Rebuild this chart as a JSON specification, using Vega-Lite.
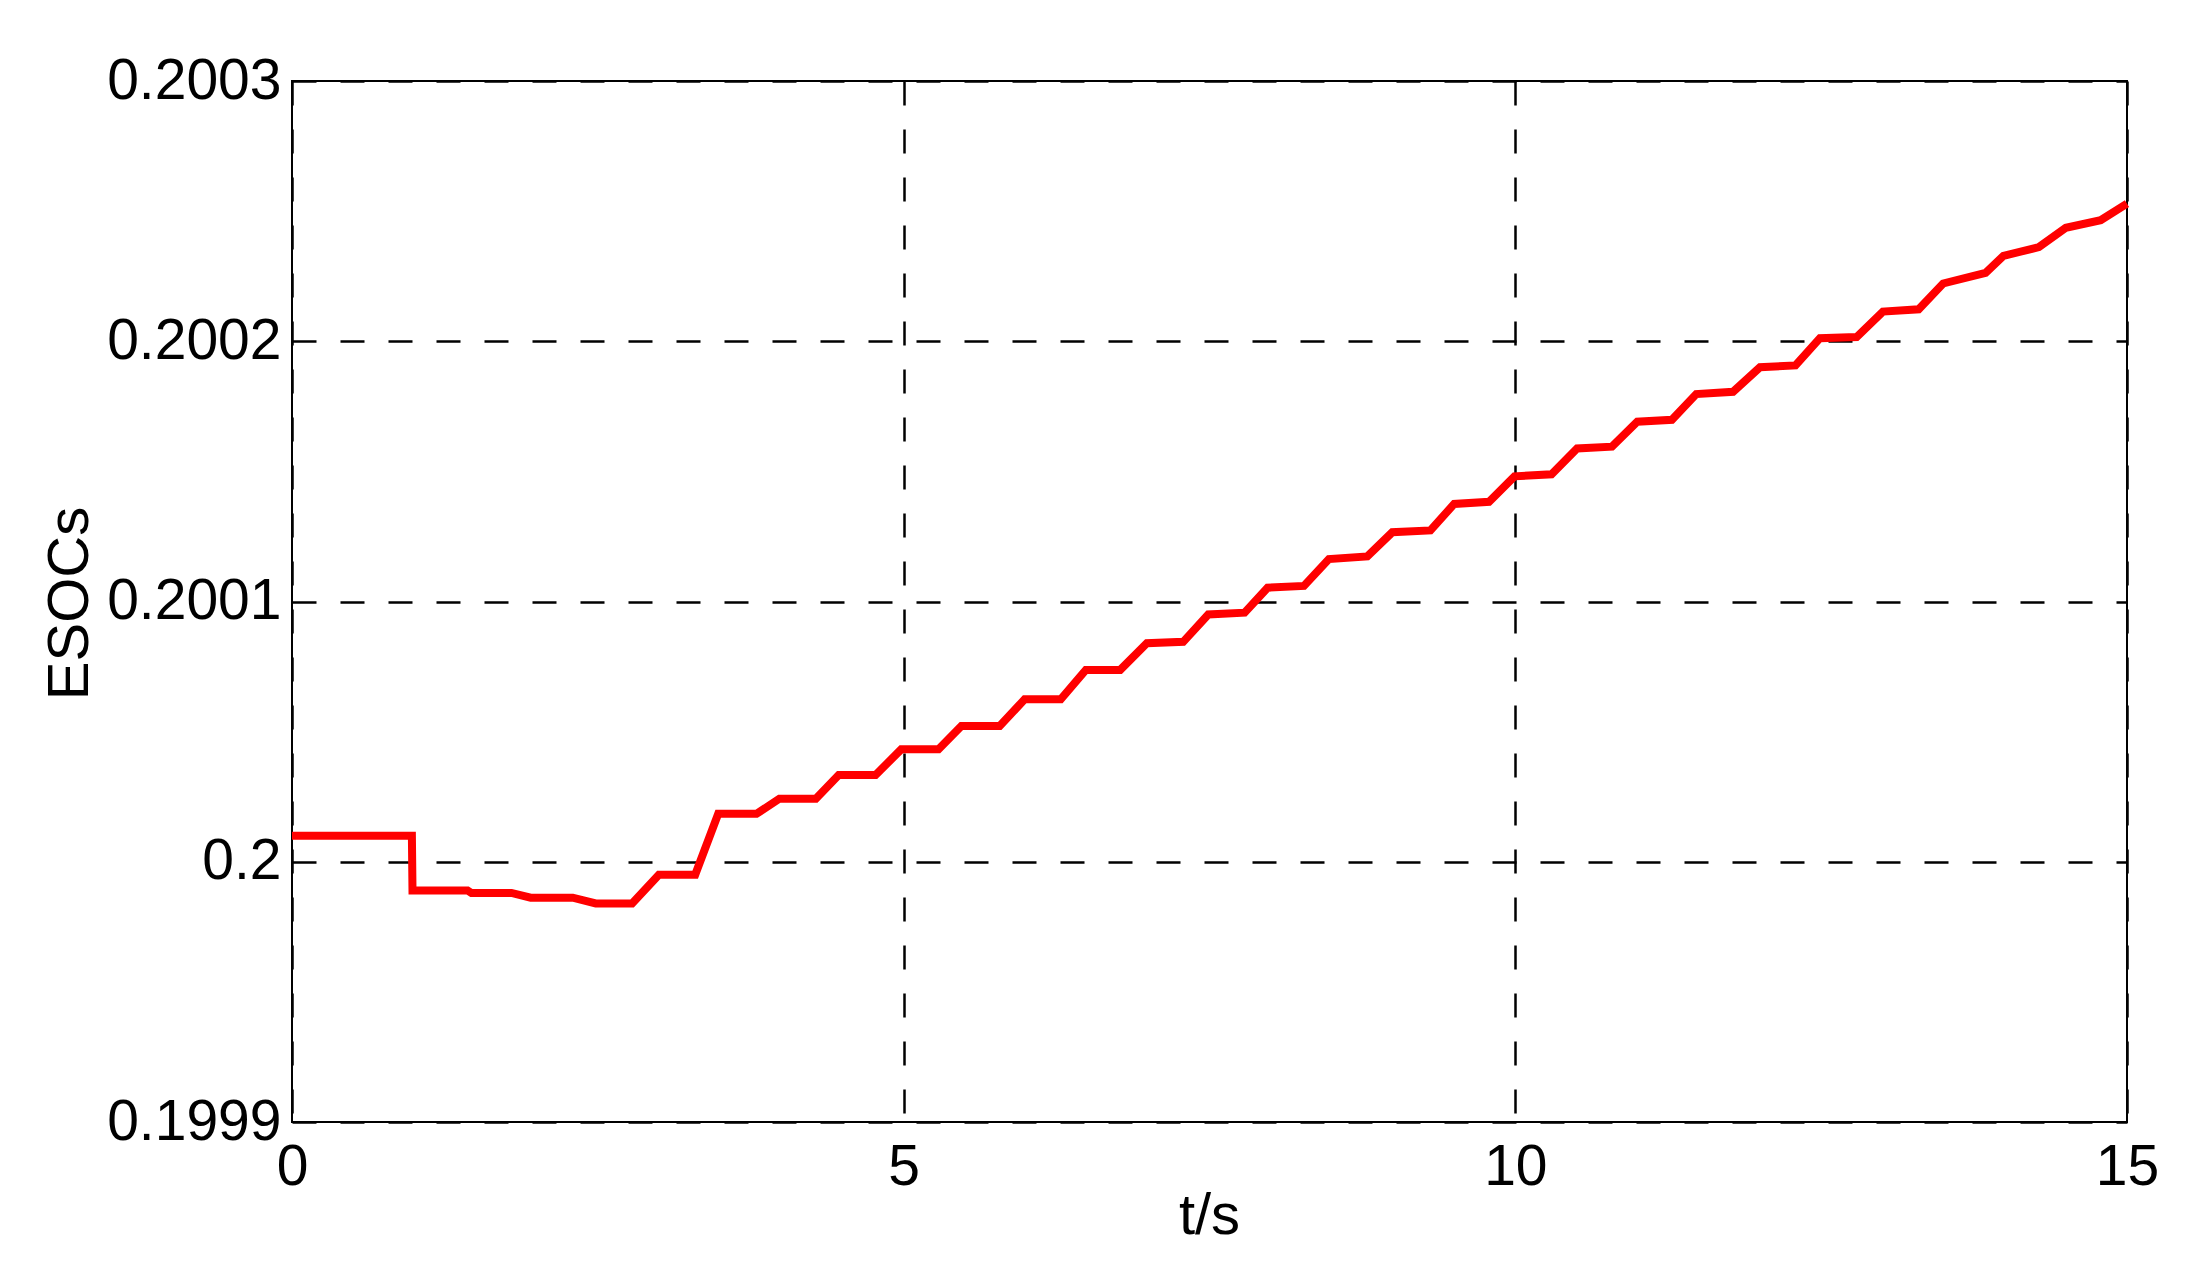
{
  "$schema": "https://vega.github.io/schema/vega-lite/v6.json",
  "autosize": {"type": "none"},
  "width": 1835,
  "height": 1041,
  "padding": {"left": 292, "top": 81, "right": 73, "bottom": 151},
  "background": "white",
  "config": {
    "view": {"stroke": "black", "strokeWidth": 2},
    "font": "Liberation Sans"
  },
  "data": {
    "values": [
      {"i": 1, "t": 0, "v": 0.200010},
      {"i": 2, "t": 0.98, "v": 0.200010},
      {"i": 3, "t": 0.985, "v": 0.199989},
      {"i": 4, "t": 1.435, "v": 0.199989},
      {"i": 5, "t": 1.467, "v": 0.199988},
      {"i": 6, "t": 1.794, "v": 0.199988},
      {"i": 7, "t": 1.951, "v": 0.1999862},
      {"i": 8, "t": 2.295, "v": 0.1999862},
      {"i": 9, "t": 2.483, "v": 0.199984},
      {"i": 10, "t": 2.78, "v": 0.199984},
      {"i": 11, "t": 2.999, "v": 0.199995},
      {"i": 12, "t": 3.296, "v": 0.199995},
      {"i": 13, "t": 3.484, "v": 0.2000184},
      {"i": 14, "t": 3.797, "v": 0.2000184},
      {"i": 15, "t": 3.984, "v": 0.2000242},
      {"i": 16, "t": 4.282, "v": 0.2000242},
      {"i": 17, "t": 4.469, "v": 0.2000333},
      {"i": 18, "t": 4.77, "v": 0.2000333},
      {"i": 19, "t": 4.98, "v": 0.2000432},
      {"i": 20, "t": 5.285, "v": 0.2000432},
      {"i": 21, "t": 5.472, "v": 0.2000522},
      {"i": 22, "t": 5.785, "v": 0.2000522},
      {"i": 23, "t": 5.989, "v": 0.2000624},
      {"i": 24, "t": 6.284, "v": 0.2000624},
      {"i": 25, "t": 6.489, "v": 0.2000737},
      {"i": 26, "t": 6.77, "v": 0.2000737},
      {"i": 27, "t": 6.988, "v": 0.200084},
      {"i": 28, "t": 7.285, "v": 0.2000845},
      {"i": 29, "t": 7.49, "v": 0.200095},
      {"i": 30, "t": 7.787, "v": 0.2000957},
      {"i": 31, "t": 7.975, "v": 0.2001053},
      {"i": 32, "t": 8.272, "v": 0.200106},
      {"i": 33, "t": 8.476, "v": 0.2001163},
      {"i": 34, "t": 8.79, "v": 0.2001173},
      {"i": 35, "t": 8.994, "v": 0.2001266},
      {"i": 36, "t": 9.306, "v": 0.2001273},
      {"i": 37, "t": 9.5, "v": 0.2001375},
      {"i": 38, "t": 9.785, "v": 0.2001383},
      {"i": 39, "t": 9.993, "v": 0.2001481},
      {"i": 40, "t": 10.296, "v": 0.2001489},
      {"i": 41, "t": 10.505, "v": 0.2001588},
      {"i": 42, "t": 10.79, "v": 0.2001595},
      {"i": 43, "t": 10.997, "v": 0.2001691},
      {"i": 44, "t": 11.28, "v": 0.2001698},
      {"i": 45, "t": 11.479, "v": 0.2001797},
      {"i": 46, "t": 11.78, "v": 0.2001806},
      {"i": 47, "t": 12.0, "v": 0.20019},
      {"i": 48, "t": 12.29, "v": 0.2001907},
      {"i": 49, "t": 12.49, "v": 0.2002012},
      {"i": 50, "t": 12.79, "v": 0.2002016},
      {"i": 51, "t": 13.005, "v": 0.2002114},
      {"i": 52, "t": 13.297, "v": 0.2002123},
      {"i": 53, "t": 13.497, "v": 0.2002222},
      {"i": 54, "t": 13.844, "v": 0.2002263},
      {"i": 55, "t": 13.99, "v": 0.2002328},
      {"i": 56, "t": 14.28, "v": 0.2002362},
      {"i": 57, "t": 14.5, "v": 0.2002436},
      {"i": 58, "t": 14.785, "v": 0.2002465},
      {"i": 59, "t": 15.0, "v": 0.2002529}
    ]
  },
  "mark": {"type": "line", "color": "#ff0000", "strokeWidth": 8, "strokeJoin": "miter"},
  "encoding": {
    "order": {"field": "i", "type": "quantitative"},
    "x": {
      "field": "t",
      "type": "quantitative",
      "scale": {"domain": [0, 15], "nice": false, "zero": false},
      "axis": {
        "title": "t/s",
        "values": [0, 5, 10, 15],
        "format": "d",
        "domain": false,
        "ticks": false,
        "tickSize": 0,
        "labelFlush": false,
        "labelOverlap": false,
        "labelFontSize": 57,
        "labelFont": "Liberation Sans",
        "labelColor": "black",
        "labelPadding": 17,
        "grid": true,
        "gridColor": "black",
        "gridWidth": 2.5,
        "gridOpacity": 1,
        "gridDash": [24, 24],
        "titleFont": "Liberation Sans",
        "titleFontSize": 58,
        "titleFontWeight": "normal",
        "titleColor": "black",
        "titleBaseline": "alphabetic",
        "titleY": 111,
        "titleX": 917
      }
    },
    "y": {
      "field": "v",
      "type": "quantitative",
      "scale": {"domain": [0.1999, 0.2003], "nice": false, "zero": false},
      "axis": {
        "title": "ESOCs",
        "values": [0.1999, 0.2, 0.2001, 0.2002, 0.2003],
        "format": ".4~f",
        "domain": false,
        "ticks": false,
        "tickSize": 0,
        "labelFlush": false,
        "labelOverlap": false,
        "labelFontSize": 57,
        "labelFont": "Liberation Sans",
        "labelColor": "black",
        "labelPadding": 11,
        "labelBaseline": "middle",
        "grid": true,
        "gridColor": "black",
        "gridWidth": 2.5,
        "gridOpacity": 1,
        "gridDash": [24, 24],
        "titleFont": "Liberation Sans",
        "titleFontSize": 58,
        "titleFontWeight": "normal",
        "titleColor": "black",
        "titleAngle": -90,
        "titleBaseline": "alphabetic",
        "titleAlign": "center",
        "titleX": -205,
        "titleY": 522
      }
    }
  }
}
